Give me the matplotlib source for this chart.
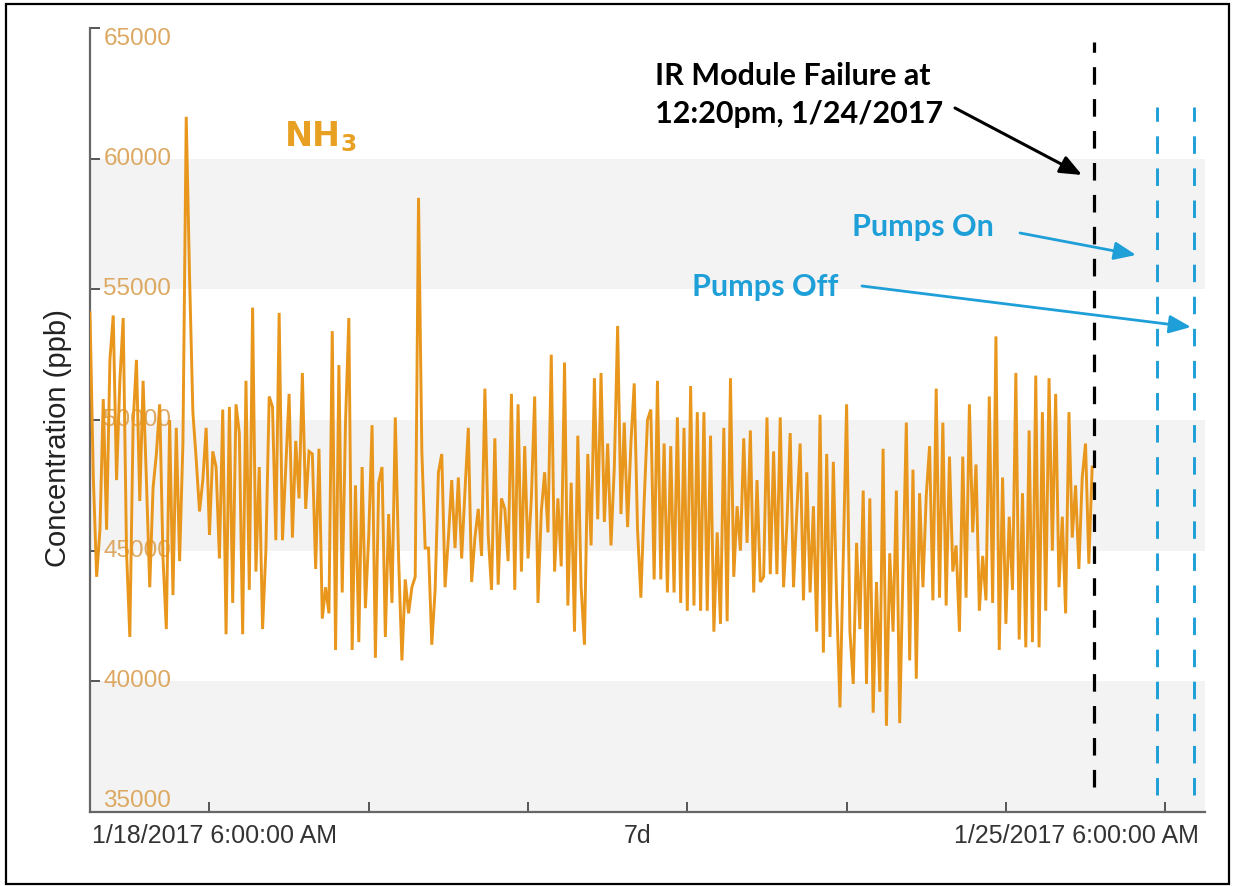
import datetime as dt
import matplotlib
matplotlib.use("Agg")
import matplotlib.pyplot as plt
import matplotlib.dates as mdates
import matplotlib.transforms as mtransforms
from matplotlib.patches import Rectangle

# ---------------- data ----------------
start_time = dt.datetime(2017, 1, 18, 6, 0)
end_time = dt.datetime(2017, 1, 25, 6, 0)
sample_minutes = 30

nh3_ppb = [
    # 1/18 06:00 ->
    54100, 47800, 44000, 45800, 50800, 45800, 52300, 54000, 47700, 51500, 53900, 45000, 41700, 49900,
    52300, 46900, 51500, 47700, 43600, 47400, 48700, 50600, 44700, 42000, 50000, 43300, 49700, 44600,
    49100, 61600, 55500, 50300, 48500, 46500, 47700, 49700, 45600, 48800, 48200, 44700, 50400, 41800,
    50500, 43000,
    50600, 49500, 41800, 51500, 43500, 54300, 44200, 48200, 42000, 45000, 50900, 50500, 45400, 54100,
    45400, 48200, 51000, 45500, 49200, 47000, 51800, 46600, 48800, 48700, 44300, 48900, 42400, 43600,
    42600, 53400, 41200, 52100, 43400, 49900, 53900, 41200, 47500, 41500, 48200, 42800, 45600, 49800,
    40900,
    47600, 48200, 41700, 46400, 43000, 50100, 44700, 40800, 43900, 42600, 43600, 44000, 58500, 48800,
    45100, 45100, 41400, 43500, 48000, 48700, 43600, 45500, 47700, 45100, 47800, 44700, 47300, 49700,
    43800, 45500, 46600, 44800, 51200, 45600, 43500, 49300, 43700, 47000, 46600, 44600, 51000, 43500,
    50600, 44200,
    49000, 44700, 47000, 50900, 43000, 46500, 48000, 45700, 52500, 44200, 47000, 44400, 52200, 42900,
    47600, 41900, 49400, 43600, 41400, 48700, 45200, 51600, 46200, 51800, 46100, 49100, 45200, 48200,
    53600, 46400, 49900, 45900, 49100, 51400, 45800, 43200, 46900, 50000, 50400, 43900, 51500, 43900,
    49100, 43400, 49000,
    43400, 50100, 43000, 49700, 42700, 51300, 42900, 50300, 42700, 50300, 42700, 49400, 41900, 45700,
    42200, 49700, 42300, 51600, 44000, 46700, 45000, 49300, 45300, 49600, 43400, 47700, 43800, 44000,
    50100, 44100, 48800, 44100, 50100, 43600, 46000, 49500, 43600, 46500, 49100, 43100, 48000,
    43400, 46700, 41900, 50200, 41100, 48700, 41700, 48400, 43100, 39000, 44800, 50600, 41900, 39900,
    45300, 42000, 47300, 39900, 47000, 38800, 43800, 39600, 48900, 38300, 44900, 41900, 47300, 38400,
    44300, 49900, 40800, 48100, 40100, 47200, 43600, 47100, 49000, 43100, 51200, 43200, 49900, 42900,
    48600,
    44200, 45200, 41900, 48600, 43200, 50600, 45700, 48300, 42700, 44800, 43100, 50900, 43000, 53200,
    41200, 47800, 42200, 46300, 43500, 51800, 41600, 47200, 41300, 49600, 41500, 51700, 41300, 50300,
    42700, 51600, 45000, 51000, 43600, 46300, 42600, 50300, 45500, 47500, 44300, 47800, 49100, 44500,
    48200,
]
times = [start_time + dt.timedelta(minutes=sample_minutes * i) for i in range(len(nh3_ppb))]

failure_time = dt.datetime(2017, 1, 24, 13, 20)
pumps_on_time = dt.datetime(2017, 1, 24, 22, 50)
pumps_off_time = dt.datetime(2017, 1, 25, 4, 20)

y_ticks = [35000, 40000, 45000, 50000, 55000, 60000, 65000]
grey_bands = [(35000, 40000), (45000, 50000), (55000, 60000)]
x_labels = ["1/18/2017 6:00:00 AM", "7d", "1/25/2017 6:00:00 AM"]

series_label = r"$\mathbf{NH_3}$"
y_title = "Concentration (ppb)"
failure_text = "IR Module Failure at\n12:20pm, 1/24/2017"
pumps_on_text = "Pumps On"
pumps_off_text = "Pumps Off"

# ---------------- styling ----------------
W, H = 1235, 886
ORANGE = "#E8961C"
LABEL_ORANGE = "#DCA862"
BLUE = "#1E9FD8"
plt.rcParams["font.family"] = ["Liberation Sans", "DejaVu Sans"]
plt.rcParams["mathtext.fontset"] = "dejavusans"


def fp(x, y):
    """reference pixel (from top-left) -> figure fraction"""
    return (x / W, 1 - y / H)


fig = plt.figure(figsize=(W / 100, H / 100), dpi=100)
ax = fig.add_axes([90 / W, (H - 812) / H, 1115 / W, 784 / H])
ax.set_facecolor("white")

for lo, hi in grey_bands:
    ax.axhspan(lo, hi, color="#F3F3F3", lw=0, zorder=0)

ax.plot(times, nh3_ppb, color=ORANGE, lw=2.1, zorder=3, solid_joinstyle="miter")

ax.set_xlim(start_time, end_time)
ax.set_ylim(y_ticks[0], y_ticks[-1])

# spines / ticks
for s in ("top", "right"):
    ax.spines[s].set_visible(False)
for s in ("left", "bottom"):
    ax.spines[s].set_color("#666666")
    ax.spines[s].set_linewidth(1.6)
ax.xaxis.set_major_locator(mdates.DayLocator())
ax.set_yticks(y_ticks)
ax.tick_params(axis="both", direction="in", length=7, width=1.4, color="#555555",
               labelbottom=False, labelleft=False)

# y tick labels inside the axes
blend = mtransforms.blended_transform_factory(ax.transAxes, ax.transData)
for v in y_ticks:
    va = "center"
    if v == y_ticks[0]:
        va = "bottom"
    elif v == y_ticks[-1]:
        va = "top"
    ax.text(0.012, v, f"{v}", transform=blend, ha="left", va=va,
            color=LABEL_ORANGE, fontsize=17.5, zorder=2)

# x labels
fig.text(*fp(92, 836), x_labels[0], ha="left", va="center", fontsize=18, color="#333333")
fig.text(*fp(638, 836), x_labels[1], ha="center", va="center", fontsize=18, color="#333333")
fig.text(*fp(1199, 836), x_labels[2], ha="right", va="center", fontsize=18, color="#333333")

# y title
fig.text(*fp(58, 438), y_title, rotation=90, ha="center", va="center", fontsize=21, color="#222222")

# series label
fig.text(*fp(320, 137), series_label, ha="center", va="center", fontsize=24, color="#E8A023")

# event lines
ax.axvline(failure_time, ymin=0.032, ymax=0.982, color="black", lw=2.3,
           dashes=(5.5, 4.5), zorder=4)
for t in (pumps_on_time, pumps_off_time):
    ax.axvline(t, ymin=0.0217, ymax=0.899, color=BLUE, lw=2.1,
               dashes=(6, 5), zorder=4)

# annotations
ann_font = dict(family=["Lato", "DejaVu Sans"], fontweight="bold", fontsize=22)
fig.text(*fp(655, 95), failure_text, ha="left", va="center", color="black",
         linespacing=1.4, **ann_font)
fig.text(*fp(923, 227), pumps_on_text, ha="center", va="center", color=BLUE, **ann_font)
fig.text(*fp(765, 287), pumps_off_text, ha="center", va="center", color=BLUE, **ann_font)

arrow_style = "-|>,head_length=0.6,head_width=0.25"
ax.annotate("", xy=fp(1082, 175), xytext=fp(955, 108), xycoords="figure fraction",
            textcoords="figure fraction",
            arrowprops=dict(arrowstyle=arrow_style, color="black", lw=2.2,
                            mutation_scale=22, shrinkA=0, shrinkB=0))
ax.annotate("", xy=fp(1136, 255), xytext=fp(1020, 233), xycoords="figure fraction",
            textcoords="figure fraction",
            arrowprops=dict(arrowstyle=arrow_style, color=BLUE, lw=2.0,
                            mutation_scale=22, shrinkA=0, shrinkB=0))
ax.annotate("", xy=fp(1191, 327), xytext=fp(862, 286), xycoords="figure fraction",
            textcoords="figure fraction",
            arrowprops=dict(arrowstyle=arrow_style, color=BLUE, lw=2.0,
                            mutation_scale=22, shrinkA=0, shrinkB=0))

# outer frame
fig.add_artist(Rectangle((6 / W, 2 / H), (1229 - 6) / W, (882 - 2) / H,
                         transform=fig.transFigure, fill=False, ec="black", lw=1.6))

fig.savefig("out.png", dpi=100, facecolor="white")
